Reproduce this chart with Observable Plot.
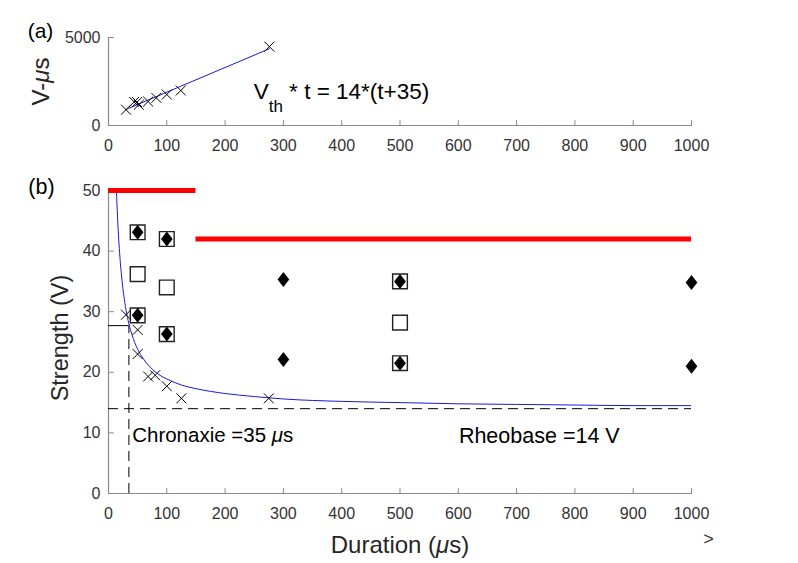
<!DOCTYPE html>
<html><head><meta charset="utf-8">
<script src="https://cdn.jsdelivr.net/npm/d3@7"></script>
<script src="https://cdn.jsdelivr.net/npm/@observablehq/plot@0.6"></script>
<style>
html,body{margin:0;padding:0;background:#fff;}
#chart{position:relative;width:798px;height:563px;overflow:hidden;}
#chart svg{display:block;}
</style></head><body><div id="chart"></div>
<script>
// ---- shared ticks ----
const xTicks = [0, 100, 200, 300, 400, 500, 600, 700, 800, 900, 1000];
const aYTicks = [0, 5000];
const bYTicks = [0, 10, 20, 30, 40, 50];

// ---- panel (a): V·t vs duration ----
const aDuration = [30, 44, 49, 52, 68, 82, 100, 124, 276];
const aProduct  = [900, 1340, 1330, 1180, 1360, 1570, 1760, 1990, 4480];
const aFitT  = [29, 276];
const aFitVT = [900, 4360];

// ---- panel (b): strength-duration ----
const crossT = [30, 50, 50, 68, 80, 100, 125, 275];
const crossV = [29.5, 27, 23, 19.3, 19.5, 17.7, 15.7, 15.7];
const squareT = [50, 50, 50, 100, 100, 100, 500, 500, 500];
const squareV = [43.1, 36.2, 29.4, 42.0, 34.0, 26.3, 35.0, 28.2, 21.5];
const diamondT = [50, 50, 100, 100, 300, 300, 500, 500, 1000, 1000];
const diamondV = [43.1, 29.4, 42.0, 26.3, 35.3, 22.1, 35.0, 21.5, 34.8, 21.0];
const curveT = [13, 14, 15, 16, 18, 20, 22, 25, 28, 30, 35, 40, 45, 50, 60, 70, 80, 90, 100, 125, 150, 200, 250, 300, 400, 500, 600, 700, 800, 900, 1000];
const curveV = [51.7, 49, 46.7, 44.6, 41.2, 38.5, 36.3, 33.6, 31.5, 30.3, 28, 26.3, 24.9, 23.8, 22.2, 21, 20.1, 19.4, 18.9, 17.9, 17.3, 16.5, 16, 15.6, 15.2, 15, 14.8, 14.7, 14.6, 14.5, 14.5];
const redY  = [50, 42];
const redX1 = [0, 150];
const redX2 = [150, 1000];
const rheobase = 14;
const chronaxie = 35;
const chronaxieV = 27.7;

const FONT = "Liberation Sans, Arial, Helvetica, sans-serif";
const AXIS = "#8a8a8a";
const TICKTEXT = "#333333";
const fmt = d3.format("d");

const tickShape = {draw(ctx, l) { ctx.moveTo(0, 0); ctx.lineTo(0, -l); }};
const diamondSymbol = {draw(ctx, size) {
  const r = Math.sqrt(size / Math.PI);
  ctx.moveTo(0, -r); ctx.lineTo(0.78 * r, 0); ctx.lineTo(0, r); ctx.lineTo(-0.78 * r, 0); ctx.closePath();
}};

function axesMarks(yTicks) {
  return [
    Plot.ruleY([0], {stroke: AXIS, strokeWidth: 1.2}),
    Plot.ruleX([0], {stroke: AXIS, strokeWidth: 1.2}),
    Plot.vector(xTicks, {x: d => d, y: () => 0, length: 5, r: 0, anchor: "start", shape: tickShape, stroke: AXIS, strokeWidth: 1}),
    Plot.vector(yTicks, {x: () => 0, y: d => d, length: 5, r: 0, rotate: 90, anchor: "start", shape: tickShape, stroke: AXIS, strokeWidth: 1}),
    Plot.axisX({ticks: xTicks, tickFormat: fmt, tickSize: 0, tickPadding: 14, label: null, fontSize: 16, fill: TICKTEXT}),
    Plot.axisY({ticks: yTicks, tickFormat: fmt, tickSize: 0, tickPadding: 8, label: null, fontSize: 16, fill: TICKTEXT})
  ];
}
const C = {textAnchor: "middle", lineAnchor: "middle"};

const plotA = Plot.plot({
  width: 798, height: 160,
  marginLeft: 108, marginRight: 107, marginTop: 37, marginBottom: 35,
  style: {fontFamily: FONT, fontSize: "16px", color: "#262626", background: "white", overflow: "visible"},
  x: {domain: [0, 1000]},
  y: {domain: [0, 5000]},
  marks: [
    ...axesMarks(aYTicks),
    Plot.line(aFitT.map((t, i) => ({t, v: aFitVT[i]})), {x: "t", y: "v", stroke: "#1a1ad8", strokeWidth: 1}),
    Plot.dot(aDuration.map((t, i) => ({t, v: aProduct[i]})), {x: "t", y: "v", symbol: "times", r: 4.6, stroke: "black", strokeWidth: 1}),
    Plot.text(["V_th * t = 14*(t+35)"], {x: () => 249, y: () => 1940, textAnchor: "start", fontSize: 22.5, fill: "black"}),
    Plot.text(["V-μs"], {...C, frameAnchor: "left", dx: -67, rotate: -90, fontSize: 24, fill: "#262626"}),
    Plot.text(["(a)"], {...C, frameAnchor: "top-left", dx: -68, dy: -6, fontSize: 21, fill: "black"})
  ]
});

const plotB = Plot.plot({
  width: 798, height: 403,
  marginLeft: 108, marginRight: 107, marginTop: 30, marginBottom: 70,
  style: {fontFamily: FONT, fontSize: "16px", color: "#262626", background: "white", overflow: "visible"},
  x: {domain: [0, 1000]},
  y: {domain: [0, 50]},
  marks: [
    ...axesMarks(bYTicks),
    Plot.ruleY([rheobase], {x1: 0, x2: 1000, stroke: "black", strokeWidth: 1, strokeDasharray: "10,6"}),
    Plot.ruleX([chronaxie], {y1: 0, y2: chronaxieV, stroke: "black", strokeWidth: 1, strokeDasharray: "10,6"}),
    Plot.ruleY([chronaxieV], {x1: 0, x2: chronaxie, stroke: "black", strokeWidth: 1}),
    Plot.line(curveT.map((t, i) => ({t, v: curveV[i]})), {x: "t", y: "v", stroke: "#1a1ad8", strokeWidth: 1, clip: true, curve: "monotone-x"}),
    Plot.ruleY(redY.map((y, i) => ({y, x1: redX1[i], x2: redX2[i]})), {y: "y", x1: "x1", x2: "x2", stroke: "#ff0000", strokeWidth: 5}),
    Plot.dot(crossT.map((t, i) => ({t, v: crossV[i]})), {x: "t", y: "v", symbol: "times", r: 4.6, stroke: "black", strokeWidth: 1}),
    Plot.dot(squareT.map((t, i) => ({t, v: squareV[i]})), {x: "t", y: "v", symbol: "square", r: 8.3, fill: "none", stroke: "#222", strokeWidth: 1.4}),
    Plot.dot(diamondT.map((t, i) => ({t, v: diamondV[i]})), {x: "t", y: "v", symbol: diamondSymbol, r: 7.5, fill: "black", stroke: "none"}),
    Plot.text(["Chronaxie =35 μs"], {x: () => 40.6, y: () => 9.6, textAnchor: "start", fontSize: 20.5, fill: "black"}),
    Plot.text(["Rheobase =14 V"], {x: () => 601, y: () => 9.4, textAnchor: "start", fontSize: 21.5, fill: "black"}),
    Plot.text(["Strength (V)"], {...C, frameAnchor: "left", dx: -48, dy: -4, rotate: -90, fontSize: 23.5, fill: "#262626"}),
    Plot.text(["Duration (μs)"], {...C, frameAnchor: "bottom", dy: 52, fontSize: 24, fill: "#262626"}),
    Plot.text([">"], {...C, frameAnchor: "bottom-right", dx: 17, dy: 46, fontSize: 18, fill: "#333"}),
    Plot.text(["(b)"], {...C, frameAnchor: "top-left", dx: -67, dy: -3, fontSize: 21.5, fill: "black"})
  ]
});

function richText(svg) {
  d3.select(svg).selectAll("text").each(function() {
    if (this.childElementCount > 0) return;
    const s = this.textContent;
    const sel = d3.select(this);
    if (s.startsWith("V_th")) {
      sel.text(null);
      sel.append("tspan").text("V");
      sel.append("tspan").attr("dy", 13).attr("font-size", 17).text("th");
      sel.append("tspan").attr("dy", -13).text(s.slice(4));
    } else if (s.includes("μ")) {
      const parts = s.split("μ");
      sel.text(null);
      parts.forEach((p, i) => {
        if (i > 0) sel.append("tspan").attr("font-style", "italic").text("μ");
        if (p) sel.append("tspan").text(p);
      });
    }
  });
}
richText(plotA); richText(plotB);
const chart = document.getElementById("chart");
chart.appendChild(plotA);
chart.appendChild(plotB);
</script>
</body></html>
